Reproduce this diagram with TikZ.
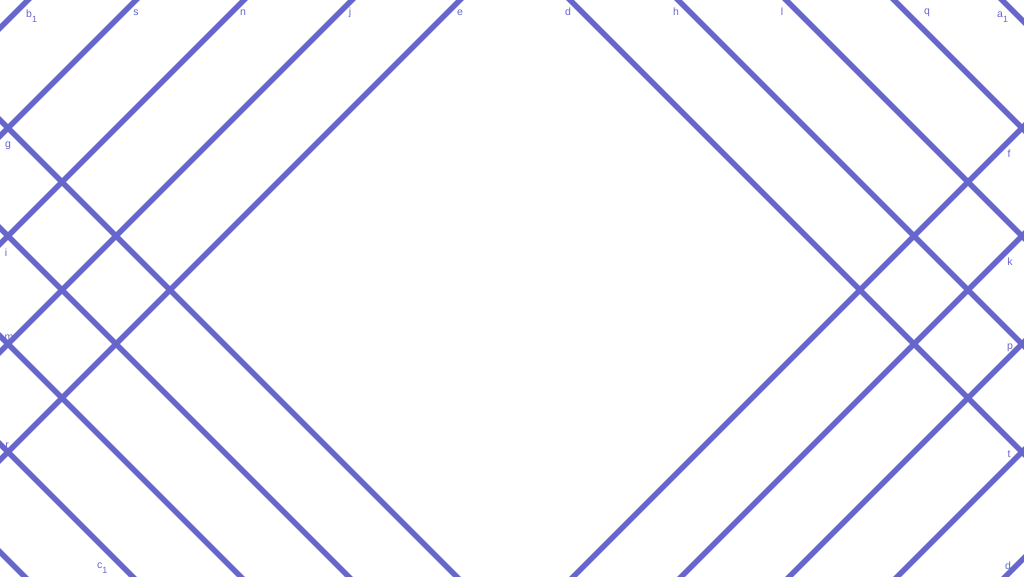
\documentclass[tikz,border=0pt]{standalone}
\usepackage{fontspec}
\setmainfont{Liberation Sans}
\definecolor{ggb}{RGB}{102,102,204}
\newcommand{\subone}{\raisebox{-5pt}{\fontsize{9}{9}\selectfont 1}}
\begin{document}
\begin{tikzpicture}[x=1pt,y=-1pt,
  ln/.style={draw=ggb,line width=5.5pt},
  lab/.style={text=ggb,font=\fontsize{10.5}{12}\selectfont,inner sep=0pt,anchor=base},
  labw/.style={lab,anchor=base west}]
\useasboundingbox[fill=white] (0,0) rectangle (1024,576);
\begin{scope}
\clip (0,0) rectangle (1024,576);
% lines x+y = c
\foreach \c in {28,136,244,352,460,1150,1258,1366,1474,1582}
  \draw[ln] ({\c+100},-100) -- ({\c-700},700);
% lines y-x = c (left family)
\foreach \c in {120,228,336,444,552}
  \draw[ln] (-100,{\c-100}) -- (800,{\c+800});
% lines x-y = c (right family)
\foreach \c in {570,678,786,894,1002}
  \draw[ln] ({\c-100},-100) -- ({\c+700},700);
\end{scope}
% top labels
\node[labw] (lb1) at (26,17) {b\subone};
\node[lab] (ls) at (136,15) {s};
\node[lab] (ln) at (243,15) {n};
\node[lab] (lj) at (350,15) {j};
\node[lab] (le) at (460,15) {e};
\node[lab] (ld) at (568,15) {d};
\node[lab] (lh) at (676,15) {h};
\node[lab] (ll) at (782,15) {l};
\node[lab] (lq) at (927,14) {q};
\node[labw] (la1) at (997,17) {a\subone};
% left labels
\node[lab] (lg) at (8,147) {g};
\node[lab] (li) at (6,256) {i};
\node[lab] (lm) at (9,340) {m};
\node[lab] (lr) at (7,448) {r};
\node[labw] (lc1) at (97,568) {c\subone};
% right labels
\node[lab] (lf) at (1009,157) {f};
\node[lab] (lk) at (1010,265) {k};
\node[lab] (lp) at (1010,349) {p};
\node[lab] (lt) at (1009,457) {t};
\node[lab] (ldd) at (1008,569) {d};
\end{tikzpicture}
\end{document}
